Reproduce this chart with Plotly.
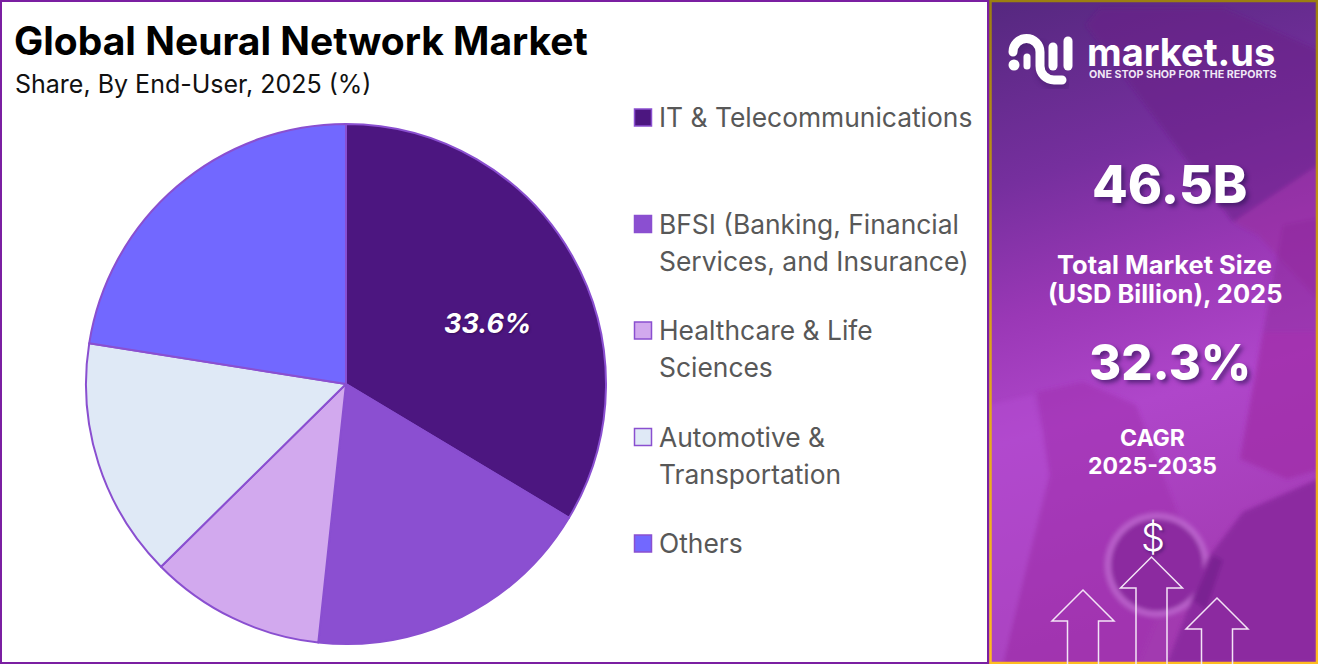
import base64
import plotly.graph_objects as go

W, H = 1318, 664

labels = ["IT & Telecommunications", "BFSI (Banking, Financial Services, and Insurance)",
          "Healthcare & Life Sciences", "Automotive & Transportation", "Others"]
values = [33.6, 18.1, 10.9, 14.9, 22.5]
slice_colors = ["#4C1680", "#8B4FD1", "#D2A9EE", "#DFE9F6", "#7268FF"]
legend_lines = [["IT & Telecommunications"],
                ["BFSI (Banking, Financial", "Services, and Insurance)"],
                ["Healthcare & Life", "Sciences"],
                ["Automotive &", "Transportation"],
                ["Others"]]
legend_rows = [117, 223.5, 330, 436.5, 543]
FONT = "Inter"


def px(x):
    return x / W


def py(y):
    return 1 - y / H


def text(x, y, s, size, color="#FFFFFF", weight=400, anchor="center", shadow="none", style="normal"):
    return dict(x=px(x), y=py(y), xref="paper", yref="paper", text=s, showarrow=False,
                xanchor=anchor, yanchor="middle",
                font=dict(family=FONT, size=size, color=color, weight=weight, shadow=shadow, style=style))


# right panel backdrop: gradient, faint photo shapes, logo mark, gold edge
panel_svg = """<svg xmlns='http://www.w3.org/2000/svg' width='330' height='664' viewBox='0 0 330 664'>
<defs>
<linearGradient id='g' x1='0' y1='0' x2='0.15' y2='1'>
<stop offset='0' stop-color='#55287F'/><stop offset='0.28' stop-color='#762F9E'/>
<stop offset='0.48' stop-color='#9A38B6'/><stop offset='0.66' stop-color='#AF46CA'/>
<stop offset='1' stop-color='#A23AB0'/></linearGradient>
<linearGradient id='e' x1='0' y1='0' x2='0' y2='1'>
<stop offset='0' stop-color='#9C7F10'/><stop offset='0.5' stop-color='#D9A21B'/>
<stop offset='1' stop-color='#FFBC20'/></linearGradient>
<filter id='b'><feGaussianBlur stdDeviation='2'/></filter>
<filter id='s'><feGaussianBlur stdDeviation='3'/></filter>
</defs>
<rect width='330' height='664' fill='url(#g)'/>
<g filter='url(#b)'>
<polygon points='112,8 98,25 245,222 330,165 330,50 235,8' fill='#6A1F86' opacity='0.55'/>
<polygon points='245,222 330,165 330,300 270,235' fill='#9A2A9C' opacity='0.45'/>
<polygon points='295,225 330,218 330,332 275,332' fill='#8E2A9C' opacity='0.5'/>
<polygon points='275,332 330,332 330,470 299,479 252,459' fill='#A02CA8' opacity='0.75'/>
<polygon points='49,392 95,382 148,405 200,540 150,664 15,664 62,475' fill='#A030AE' opacity='0.55'/>
<polygon points='0,405 45,395 60,475 15,664 0,664' fill='#B44CD2' opacity='0.5'/>
<circle cx='169' cy='565' r='52' fill='#C06ED2' opacity='0.75'/>
<circle cx='169' cy='565' r='46' fill='#8C2BA0'/>
<polygon points='179,664 219,559 255,512 330,479 330,664' fill='#8C2AA0'/>
<polygon points='205,600 225,555 235,560 218,610' fill='#6E2088' opacity='0.6'/>
</g>
<g filter='url(#s)' opacity='0.35' fill='none' stroke='#2A1050' stroke-width='9' stroke-linecap='round' transform='translate(2,4)'>
<path d='M25,52 A13.5,13.5 0 0 1 52,52 V66 A14,14 0 0 0 66,80 H74'/>
</g>
<g fill='none' stroke='#FFFFFF' stroke-width='9' stroke-linecap='round'>
<path d='M25,52 A13.5,13.5 0 0 1 52,52 V66 A14,14 0 0 0 66,80 H74'/>
<path d='M65,47 V66'/><path d='M80,41 V66'/>
<path d='M39,57 V66' stroke-width='7'/>
</g><circle cx='26' cy='65' r='5.5' fill='#FFFFFF'/>
<rect x='2.5' y='1' width='326.5' height='662' fill='none' stroke='url(#e)' stroke-width='2.5'/>
</svg>"""
panel_uri = "data:image/svg+xml;base64," + base64.b64encode(panel_svg.encode()).decode()

fig = go.Figure(go.Pie(
    labels=labels, values=values, sort=False, direction="clockwise", rotation=0,
    marker=dict(colors=slice_colors, line=dict(color="#8A4FD0", width=2)),
    textinfo="none", showlegend=False,
    domain=dict(x=[px(346 - 260), px(346 + 260)], y=[py(384 + 260), py(384 - 260)]),
))

shapes = [
    dict(type="rect", xref="paper", yref="paper", x0=px(1), x1=px(988), y0=py(1), y1=py(663),
         line=dict(color="#7B1FA2", width=2), fillcolor="rgba(0,0,0,0)"),
]
big_shadow = "3px 3px 4px rgba(50,20,90,0.65)"
annotations = [
    text(12, 41, "Global Neural Network Market", 39, "#000000", 700, "left"),
    text(13, 84, "Share, By End-User, 2025 (%)", 25, "#111111", 400, "left"),
    text(488, 323, "33.6%", 27, "#FFFFFF", 700, shadow="1px 1px 2px rgba(40,10,70,0.6)", style="italic"),
    text(1085, 52, "market.us", 38, "#FFFFFF", 700, "left"),
    text(1087, 75, "ONE STOP SHOP FOR THE REPORTS", 10.7, "#F0E6F5", 700, "left"),
    text(1169, 184, "46.5B", 52, "#FFFFFF", 800, shadow=big_shadow),
    text(1164.5, 264, "Total Market Size", 25.5, "#FFFFFF", 700),
    text(1165, 294, "(USD Billion), 2025", 25.5, "#FFFFFF", 700),
    text(1169.5, 362, "32.3%", 49, "#FFFFFF", 800, shadow=big_shadow),
    text(1152, 438, "CAGR", 23, "#FFFFFF", 700),
    text(1152, 466, "2025-2035", 23, "#FFFFFF", 700),
    text(1153, 537, "$", 38, "#FFFFFF", 300, shadow="2px 2px 3px rgba(50,20,90,0.5)"),
]

# legend: swatch + wrapped label lines
for row, lines, color in zip(legend_rows, legend_lines, slice_colors):
    shapes.append(dict(type="rect", xref="paper", yref="paper", x0=px(634.5), x1=px(651.5), y0=py(row + 9), y1=py(row - 8),
                       fillcolor=color, line=dict(color="#8A4FD0", width=1.5)))
    for i, line in enumerate(lines):
        annotations.append(text(657, row + i * 37, line, 26.4, "#585858", 400, "left"))

# arrows at the bottom of the panel
for tip_x, tip_y in [(1083, 590), (1151.5, 557), (1217, 598)]:
    half, neck, shoulder = 31, 15.5, 31
    d = (f"M{px(tip_x - neck)},{py(664)} L{px(tip_x - neck)},{py(tip_y + shoulder)} L{px(tip_x - half)},{py(tip_y + shoulder)} "
         f"L{px(tip_x)},{py(tip_y)} L{px(tip_x + half)},{py(tip_y + shoulder)} L{px(tip_x + neck)},{py(tip_y + shoulder)} L{px(tip_x + neck)},{py(664)}")
    shapes.append(dict(type="path", xref="paper", yref="paper", path=d, line=dict(color="#F3E4F6", width=1.5)))

fig.update_layout(
    width=W, height=H, margin=dict(l=0, r=0, t=0, b=0), autosize=False,
    paper_bgcolor="#FFFFFF", font=dict(family=FONT), showlegend=False,
    shapes=shapes, annotations=annotations,
    images=[dict(source=panel_uri, xref="paper", yref="paper", x=px(988), y=1, sizex=px(330), sizey=1,
                 xanchor="left", yanchor="top", sizing="stretch", layer="below")],
)

fig.write_html("out.html", post_script="document.body.style.margin='0';", config=dict(displayModeBar=False))
